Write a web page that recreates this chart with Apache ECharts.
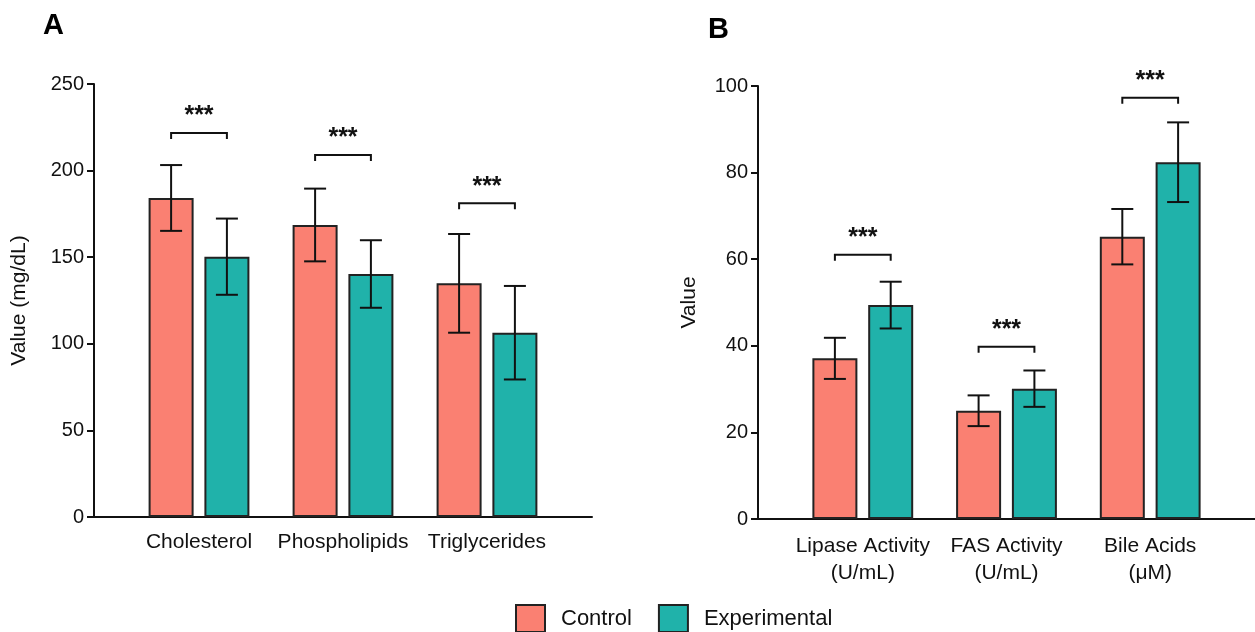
<!DOCTYPE html>
<html>
<head>
<meta charset="utf-8">
<script src="https://cdn.jsdelivr.net/npm/echarts@6/dist/echarts.min.js"></script>
<style>
html,body{margin:0;padding:0;background:#fff;}
#chart{width:1255px;height:632px;}
</style>
</head>
<body>
<div id="chart"></div>
<script>
// ---- data ----
const categoriesA = ['Cholesterol', 'Phospholipids', 'Triglycerides'];
const controlA = [184.2, 168.6, 134.9];
const controlSdA = [19.0, 21.0, 28.5];
const experimentalA = [150.3, 140.3, 106.4];
const experimentalSdA = [22.0, 19.5, 27.0];
const sigA = [221.7, 209.0, 181.1];
const yTicksA = { min: 0, max: 250, interval: 50 };

const categoriesB = ['Lipase Activity\n(U/mL)', 'FAS Activity\n(U/mL)', 'Bile Acids\n(μM)'];
const controlB = [37.1, 25.0, 65.2];
const controlSdB = [4.75, 3.55, 6.4];
const experimentalB = [49.4, 30.1, 82.4];
const experimentalSdB = [5.4, 4.2, 9.2];
const sigB = [61.0, 39.8, 97.3];
const yTicksB = { min: 0, max: 100, interval: 20 };

const sigLabel = '***';
const seriesNames = ['Control', 'Experimental'];

// ---- style ----
const FONT = 'Liberation Sans';
const COLORS = ['#FA8072', '#20B2AA'];
const EDGE = '#222';
const BAR_W = 45;
const BAR_GAP = 0.24;
const OFF = (BAR_W + BAR_W * BAR_GAP) / 2;
const CAP = 11;

const pos = (arr) => arr.map((v, i) => [i + 1, v]);

function errData(means, sds, side) {
  return means.map((m, i) => [i + 1, m, sds[i], side]);
}

function errRender(params, api) {
  const x = api.value(0), m = api.value(1), s = api.value(2), side = api.value(3);
  const t = api.coord([x, m + s]);
  const b = api.coord([x, m - s]);
  const cx = t[0] + side * OFF;
  const st = { stroke: '#111', lineWidth: 2 };
  return {
    type: 'group',
    children: [
      { type: 'line', shape: { x1: cx, y1: t[1], x2: cx, y2: b[1] }, style: st },
      { type: 'line', shape: { x1: cx - CAP, y1: t[1], x2: cx + CAP, y2: t[1] }, style: st },
      { type: 'line', shape: { x1: cx - CAP, y1: b[1], x2: cx + CAP, y2: b[1] }, style: st }
    ]
  };
}

function sigRender(params, api) {
  const p = api.coord([api.value(0), api.value(1)]);
  const st = { stroke: '#111', lineWidth: 2, fill: null };
  return {
    type: 'group',
    children: [
      { type: 'polyline', shape: { points: [[p[0] - OFF, p[1] + 6], [p[0] - OFF, p[1]], [p[0] + OFF, p[1]], [p[0] + OFF, p[1] + 6]] }, style: st },
      { type: 'text', x: p[0], y: p[1] - 4, style: { text: sigLabel, fill: '#111', font: 'bold 25px ' + FONT, align: 'center', verticalAlign: 'bottom' } }
    ]
  };
}

function xAxisFor(gridIndex, cats, lh, margin) {
  return {
    type: 'value', gridIndex, min: 0.2708, max: 3.7292,
    splitLine: { show: false },
    axisTick: { show: false },
    axisLine: { show: true, lineStyle: { color: '#111', width: 2 } },
    axisLabel: {
      customValues: [1, 2, 3],
      formatter: (v) => cats[Math.round(v) - 1] || '',
      color: '#111', fontSize: 21, fontFamily: FONT, margin, lineHeight: lh
    }
  };
}

function yAxisFor(gridIndex, ticks, name, gap) {
  return {
    type: 'value', gridIndex, min: ticks.min, max: ticks.max, interval: ticks.interval,
    name, nameLocation: 'middle', nameGap: gap,
    nameTextStyle: { color: '#111', fontSize: 21, fontFamily: FONT },
    splitLine: { show: false },
    axisLine: { show: true, lineStyle: { color: '#111', width: 2 } },
    axisTick: { show: true, length: 7, lineStyle: { color: '#111', width: 2 } },
    axisLabel: { color: '#111', fontSize: 20, fontFamily: FONT, margin: 10 }
  };
}

function barSeries(name, data, idx, color) {
  return {
    name, type: 'bar', xAxisIndex: idx, yAxisIndex: idx, data: pos(data),
    barWidth: BAR_W, barGap: (BAR_GAP * 100) + '%',
    itemStyle: { color, borderColor: EDGE, borderWidth: 2 },
    emphasis: { disabled: true }, z: 2
  };
}

function errSeries(means, sds, side, idx) {
  return {
    type: 'custom', xAxisIndex: idx, yAxisIndex: idx, renderItem: errRender,
    data: errData(means, sds, side), z: 5, silent: true
  };
}

function sigSeries(vals, idx) {
  return {
    type: 'custom', xAxisIndex: idx, yAxisIndex: idx, renderItem: sigRender,
    data: pos(vals), z: 5, silent: true
  };
}

const chart = echarts.init(document.getElementById('chart'), null, { renderer: 'canvas' });
chart.setOption({
  animation: false,
  backgroundColor: '#fff',
  textStyle: { fontFamily: FONT },
  title: [
    { text: 'A', left: 38, top: 6, textStyle: { fontSize: 29, fontWeight: 'bold', color: '#000', fontFamily: FONT } },
    { text: 'B', left: 703, top: 10, textStyle: { fontSize: 29, fontWeight: 'bold', color: '#000', fontFamily: FONT } }
  ],
  legend: {
    data: seriesNames, left: 515, top: 604, icon: 'rect', padding: 0,
    itemWidth: 29, itemHeight: 27, itemGap: 26,
    textStyle: { fontSize: 22, color: '#111', fontFamily: FONT, padding: [0, 0, 0, 11] }
  },
  grid: [
    { left: 94, right: 663, top: 84, bottom: 115 },
    { left: 758, right: 0, top: 86, bottom: 113 }
  ],
  xAxis: [xAxisFor(0, categoriesA, 24, 13), xAxisFor(1, categoriesB, 27, 14)],
  yAxis: [yAxisFor(0, yTicksA, 'Value (mg/dL)', 64), yAxisFor(1, yTicksB, 'Value', 58)],
  series: [
    barSeries(seriesNames[0], controlA, 0, COLORS[0]),
    barSeries(seriesNames[1], experimentalA, 0, COLORS[1]),
    barSeries(seriesNames[0], controlB, 1, COLORS[0]),
    barSeries(seriesNames[1], experimentalB, 1, COLORS[1]),
    errSeries(controlA, controlSdA, -1, 0),
    errSeries(experimentalA, experimentalSdA, 1, 0),
    errSeries(controlB, controlSdB, -1, 1),
    errSeries(experimentalB, experimentalSdB, 1, 1),
    sigSeries(sigA, 0),
    sigSeries(sigB, 1)
  ]
});
</script>
</body>
</html>
